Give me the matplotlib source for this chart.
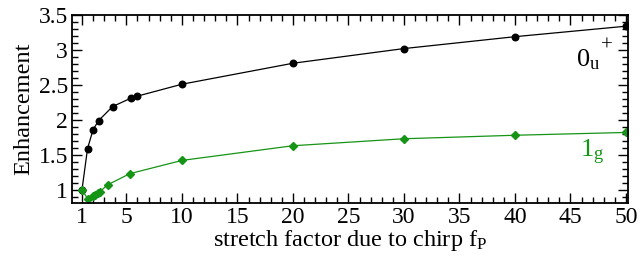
import numpy as np
import matplotlib
matplotlib.use('Agg')
import matplotlib.pyplot as plt
from matplotlib.ticker import MultipleLocator, FixedLocator

plt.rcParams['font.family'] = ['Liberation Serif', 'DejaVu Serif']
plt.rcParams['mathtext.fontset'] = 'custom'
plt.rcParams['mathtext.rm'] = 'Liberation Serif'
plt.rcParams['mathtext.it'] = 'Liberation Serif'
plt.rcParams['mathtext.bf'] = 'Liberation Serif:bold'

# 0u+ state (black circles)
stretch_u = [1.0, 1.5, 2.0, 2.5, 3.75, 5.4, 6.0, 10, 20, 30, 40, 50]
enh_u = [1.0, 1.59, 1.86, 1.99, 2.19, 2.31, 2.34, 2.51, 2.81, 3.02, 3.19, 3.34]

# 1g state (green diamonds)
stretch_g = [1.0, 1.5, 2.0, 2.2, 2.4, 2.6, 3.3, 5.3, 10, 20, 30, 40, 50]
enh_g = [1.0, 0.875, 0.91, 0.93, 0.95, 0.97, 1.07, 1.23, 1.42, 1.63, 1.73, 1.78, 1.82]

x_ticks = [1, 5, 10, 15, 20, 25, 30, 35, 40, 45, 50]
green = '#169416'

fig = plt.figure(figsize=(6.4, 2.59), dpi=100)
ax = fig.add_axes([0.1125, 0.216, 0.869, 0.726])

ax.plot(stretch_u, enh_u, '-o', color='black', linewidth=0.9, markersize=4.7)
ax.plot(stretch_g, enh_g, '-D', color=green, linewidth=0.9, markersize=3.8)

ax.set_xlim(0.1, 50.2)
ax.set_ylim(0.81, 3.5)
ax.xaxis.set_major_locator(FixedLocator(x_ticks))
ax.xaxis.set_minor_locator(MultipleLocator(1))
ax.yaxis.set_minor_locator(MultipleLocator(0.1))
ax.set_yticks([1, 1.5, 2, 2.5, 3, 3.5])
ax.set_yticklabels(['1', '1.5', '2', '2.5', '3', '3.5'])

ax.tick_params(which='both', direction='in', top=True, right=True, width=1.0)
ax.tick_params(which='major', length=7.5, labelsize=17, pad=3)
ax.tick_params(which='minor', length=4)
for s in ax.spines.values():
    s.set_linewidth(1.3)

ax.set_xlabel(r'stretch factor due to chirp f$_\mathrm{P}$', fontsize=17.5, labelpad=0)
ax.set_ylabel('Enhancement', fontsize=17.5, labelpad=3)

ax.text(0.906, 0.76, r'$\mathrm{0_u}$', transform=ax.transAxes,
        fontsize=19, color='black', ha='left', va='center')
ax.text(0.952, 0.835, '+', transform=ax.transAxes,
        fontsize=15, color='black', ha='left', va='center')
ax.text(0.935, 0.27, r'$\mathrm{1_g}$', transform=ax.transAxes,
        fontsize=19, color=green, ha='center', va='center')

fig.savefig('out.png', dpi=100)
